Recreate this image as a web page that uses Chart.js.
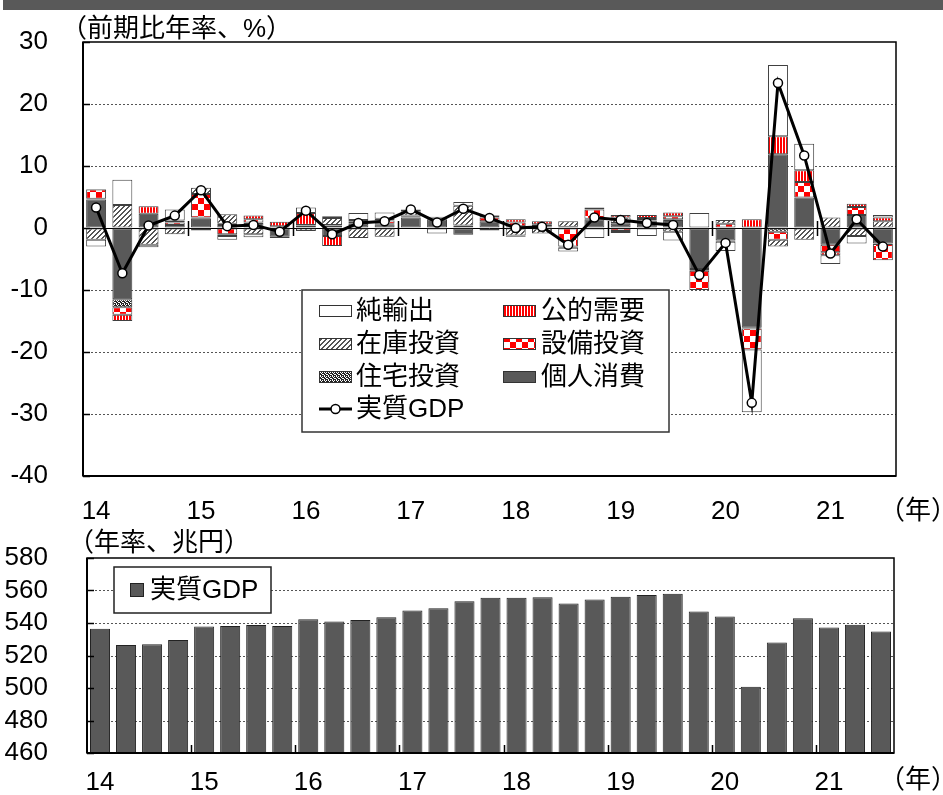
<!DOCTYPE html>
<html lang="ja">
<head>
<meta charset="utf-8">
<script src="https://cdn.jsdelivr.net/npm/chart.js@4.4.1/dist/chart.umd.min.js"></script>
<style>
  body { margin:0; background:#fff; width:943px; height:795px; position:relative; overflow:hidden;
         font-family:"Liberation Sans","Noto Sans CJK JP",sans-serif; }
  .band { position:absolute; left:3px; top:0; width:940px; height:10px; background:#595959; }
  .lbl { position:absolute; font-size:26px; color:#000; white-space:nowrap; line-height:26px; }
  #wrapTop { position:absolute; left:0; top:0; width:943px; height:530px; }
  #wrapBot { position:absolute; left:0; top:530px; width:943px; height:265px; }
</style>
</head>
<body>
<div class="band"></div>
<div id="wrapTop"><canvas id="topChart" width="943" height="530"></canvas></div>
<div id="wrapBot"><canvas id="botChart" width="943" height="265"></canvas></div>
<div class="lbl" style="left:61px; top:15px;">（前期比年率、%）</div>
<div class="lbl" style="left:879px; top:497px;">（年）</div>
<div class="lbl" style="left:68px; top:529px;">（年率、兆円）</div>
<div class="lbl" style="left:879px; top:766px;">（年）</div>
<script>
// 2014Q1 〜 2021Q3 (四半期)
const tickLabels = ['14','','','', '15','','','', '16','','','', '17','','','',
                    '18','','','', '19','','','', '20','','','', '21','',''];

// 寄与度 (前期比年率、%)
const kojinShohi  = [4.6,-11.5,2.3,0.5, 1.5,0.5,0.8,-1.4, 0.4,-1.3,0.7,0.6, 1.7,1.4,-1.1,1.1,
                     0.3,0.3,0.2,1.4, 0.7,1.2,1.3,-6.6, -2.0,-16.1,11.9,4.9, -2.7,2.1,-2.5];
const jutakuToshi = [0.1,-1.3,0.0,0.0, 0.2,0.2,0.1,0.0, 0.0,0.4,0.1,0.1, 0.1,0.1,0.1,-0.4,
                     0.0,0.0,0.0,0.1, 0.1,0.1,0.1,-0.3, -0.2,-0.1,-0.6,0.0, 0.0,0.0,-0.1];
const setsubiToshi= [1.5,-1.2,0.0,0.4, 3.8,-1.0,0.5,0.3, 0.1,0.1,0.3,0.5, 0.2,0.2,0.3,0.6,
                     0.6,0.3,-3.0,1.5, -0.5,0.3,0.5,-3.1, 0.7,-3.4,-1.3,2.5, -1.2,1.3,-2.6];
const zaikoToshi  = [-1.9,3.7,-2.7,-1.0, 1.0,1.5,-1.0,0.0, -0.5,1.1,-1.6,-1.4, 0.7,0.0,3.2,0.3,
                     -1.2,-0.9,0.9,0.0, 0.9,0.0,-0.6,0.0, 0.6,0.0,-1.1,-1.9, 1.7,-1.3,1.1];
const kotekiJuyo  = [0.1,-1.0,1.2,0.3, 0.0,-0.3,0.6,0.7, 1.9,-1.6,0.2,0.3, 0.0,0.1,0.0,0.1,
                     0.5,0.5,-0.2,0.3, 0.4,0.5,0.6,0.0, 0.0,1.4,2.9,1.9, -0.5,0.5,0.6];
const junYushutsu = [-1.1,4.1,-0.4,1.8, -0.4,-0.6,-0.5,-0.2, 0.9,0.3,1.1,1.0, 0.3,-0.9,0.6,0.0,
                     -0.2,0.0,-0.6,-1.6, -0.3,-1.3,-1.4,2.4, -1.5,-10.1,11.5,4.3, -1.4,-1.2,0.4];
const jisshitsuGDP= [3.3,-7.3,0.4,2.0, 6.1,0.3,0.5,-0.6, 2.8,-1.0,0.8,1.1, 3.0,0.9,3.1,1.6,
                     0.0,0.2,-2.7,1.7, 1.3,0.8,0.5,-7.6, -2.4,-28.2,23.4,11.7, -4.1,1.4,-3.0];

// 実質GDP水準 (年率、兆円)
const gdpLevel = [536.4,526.5,526.9,529.6, 537.8,538.2,538.8,538.2, 542.3,540.9,541.9,543.6,
                  547.7,549.1,553.4,555.5, 555.5,555.9,552.0,554.5, 556.2,557.2,558.0,547.1,
                  544.0,500.8,528.0,543.0, 537.3,538.9,534.8];

const FONT = '"Liberation Sans", "Noto Sans CJK JP", sans-serif';
Chart.defaults.font.family = FONT;
Chart.defaults.font.size = 26;
Chart.defaults.color = '#000';

// 模様
function makePattern(w, h, draw) {
    const c = document.createElement('canvas');
    c.width = w; c.height = h;
    const g = c.getContext('2d');
    draw(g);
    return g.createPattern(c, 'repeat');
}
const patStripe = makePattern(3, 1, g => {
    g.fillStyle = '#fff'; g.fillRect(0, 0, 3, 1);
    g.fillStyle = '#ff0000'; g.fillRect(0, 0, 2, 1);
});
const patChecker = makePattern(12, 12, g => {
    g.fillStyle = '#fff'; g.fillRect(0, 0, 12, 12);
    g.fillStyle = '#ff0000'; g.fillRect(0, 0, 6, 6); g.fillRect(6, 6, 6, 6);
});
const patHatch = makePattern(5, 5, g => {
    g.fillStyle = '#fff'; g.fillRect(0, 0, 5, 5);
    g.fillStyle = '#555';
    for (let i = 0; i < 5; i++) { g.fillRect(i, 4 - i, 1, 1); g.fillRect((i + 1) % 5, 4 - i, 1, 1); }
});
const patDots = makePattern(4, 4, g => {
    g.fillStyle = '#222'; g.fillRect(0, 0, 4, 4);
    g.fillStyle = '#fff';
    [[0,0],[2,0],[1,1],[3,2],[0,3],[2,2]].forEach(p => g.fillRect(p[0], p[1], 1, 1));
});

const barBorder = '#404040';
function barSet(label, data, fill) {
    return { type: 'bar', label, data, backgroundColor: fill, borderColor: barBorder,
             borderWidth: 1, borderSkipped: false, barPercentage: 0.76, categoryPercentage: 1.0 };
}

// 軸・枠・凡例を描くプラグイン
function framePlugin(cfg) {
    return {
        id: 'frame_' + cfg.name,
        beforeDatasetsDraw(chart) {
            const { ctx, chartArea: a, scales: { y } } = chart;
            ctx.save();
            ctx.lineWidth = 1;
            y.ticks.forEach(t => {
                if (t.value === y.min || t.value === y.max) return;
                const py = Math.round(y.getPixelForValue(t.value)) + 0.5;
                ctx.beginPath();
                if (t.value === 0 && cfg.zeroLine) { ctx.setLineDash([]); ctx.strokeStyle = '#000'; }
                else { ctx.setLineDash([2, 2]); ctx.strokeStyle = '#555'; }
                ctx.moveTo(a.left, py); ctx.lineTo(a.right, py); ctx.stroke();
            });
            ctx.restore();
        },
        afterDatasetsDraw(chart) {
            const { ctx, chartArea: a, scales: { x, y } } = chart;
            ctx.save();
            // 枠
            ctx.strokeStyle = '#000';
            ctx.lineWidth = 1.5;
            ctx.strokeRect(a.left, a.top, a.right - a.left, a.bottom - a.top);
            ctx.lineWidth = 2;
            ctx.beginPath(); ctx.moveTo(a.left, a.top); ctx.lineTo(a.left, a.bottom); ctx.stroke();
            ctx.beginPath(); ctx.moveTo(a.left, a.bottom); ctx.lineTo(a.right, a.bottom); ctx.stroke();
            // 内向き目盛
            ctx.lineWidth = 1.5;
            y.ticks.forEach(t => {
                const py = Math.round(y.getPixelForValue(t.value)) + 0.5;
                ctx.beginPath(); ctx.moveTo(a.left, py); ctx.lineTo(a.left + 7, py); ctx.stroke();
            });
            // 年の区切り
            const base = cfg.zeroLine ? y.getPixelForValue(0) : a.bottom;
            for (let i = 4; i < tickLabels.length; i += 4) {
                const px = Math.round((x.getPixelForValue(i - 1) + x.getPixelForValue(i)) / 2) + 0.5;
                ctx.beginPath();
                if (cfg.zeroLine) { ctx.moveTo(px, base - 7); ctx.lineTo(px, base + 8); }
                else { ctx.moveTo(px, base); ctx.lineTo(px, base - 8); }
                ctx.stroke();
            }
            ctx.restore();
            if (cfg.legend) cfg.legend(chart);
        }
    };
}

function swatch(ctx, ds, sx, cy) {
    if (ds.type === 'line') {
        ctx.strokeStyle = '#000'; ctx.lineWidth = 3;
        ctx.beginPath(); ctx.moveTo(sx, cy); ctx.lineTo(sx + 33, cy); ctx.stroke();
        ctx.fillStyle = '#fff'; ctx.lineWidth = 1.5;
        ctx.beginPath(); ctx.arc(sx + 16.5, cy, 4.5, 0, Math.PI * 2); ctx.fill(); ctx.stroke();
    } else {
        ctx.fillStyle = ds.backgroundColor;
        ctx.fillRect(sx, cy - 5.5, 33, 11);
        ctx.strokeStyle = '#333'; ctx.lineWidth = 1;
        ctx.strokeRect(sx + 0.5, cy - 5.5, 32, 11);
    }
}

const legendOrder = ['純輸出', '公的需要', '在庫投資', '設備投資', '住宅投資', '個人消費', '実質GDP'];

function drawTopLegend(chart) {
    const ctx = chart.ctx;
    const box = { x: 302, y: 290, w: 367, h: 142 };
    const rows = [311, 344, 377, 409];
    const cols = [{ sw: 319, tx: 356 }, { sw: 503, tx: 541 }];
    ctx.save();
    ctx.fillStyle = '#fff';
    ctx.fillRect(box.x, box.y, box.w, box.h);
    ctx.strokeStyle = '#333'; ctx.lineWidth = 1.5;
    ctx.strokeRect(box.x, box.y, box.w, box.h);
    ctx.font = '26px ' + FONT;
    ctx.textBaseline = 'middle';
    legendOrder.forEach((name, k) => {
        const ds = chart.data.datasets.find(d => d.label === name);
        const r = rows[Math.floor(k / 2)], c = cols[k % 2];
        swatch(ctx, ds, c.sw, r);
        ctx.fillStyle = '#000';
        ctx.fillText(name, c.tx, r + 1);
    });
    ctx.restore();
}

function drawBotLegend(chart) {
    const ctx = chart.ctx;
    ctx.save();
    ctx.fillStyle = '#fff';
    ctx.fillRect(114, 37, 157, 46);
    ctx.strokeStyle = '#222'; ctx.lineWidth = 1.5;
    ctx.strokeRect(114, 37, 157, 46);
    ctx.fillStyle = '#595959';
    ctx.fillRect(130, 53, 14, 14);
    ctx.strokeStyle = '#222'; ctx.lineWidth = 1;
    ctx.strokeRect(130.5, 53.5, 13, 13);
    ctx.font = '26px ' + FONT;
    ctx.textBaseline = 'middle';
    ctx.fillStyle = '#000';
    ctx.fillText(chart.data.datasets[0].label, 150, 61);
    ctx.restore();
}

// 目盛ラベルを枠から離すため、透明な目盛線の長さを使う
function yGrid(len) {
    return { display: true, drawOnChartArea: false, drawTicks: true, tickLength: len,
             tickColor: 'rgba(0,0,0,0)' };
}

// 上段: 寄与度
new Chart(document.getElementById('topChart'), {
    data: {
        labels: tickLabels,
        datasets: [
            { type: 'line', label: '実質GDP', data: jisshitsuGDP, borderColor: '#000', borderWidth: 3,
              pointRadius: 4.5, pointBackgroundColor: '#fff', pointBorderColor: '#000',
              pointBorderWidth: 1.5, tension: 0 },
            barSet('個人消費', kojinShohi, '#595959'),
            barSet('住宅投資', jutakuToshi, patDots),
            barSet('設備投資', setsubiToshi, patChecker),
            barSet('在庫投資', zaikoToshi, patHatch),
            barSet('公的需要', kotekiJuyo, patStripe),
            barSet('純輸出', junYushutsu, '#fff')
        ]
    },
    options: {
        responsive: false,
        animation: false,
        devicePixelRatio: 1,
        layout: { padding: { top: 42, right: 47, left: 0, bottom: 0 } },
        plugins: { legend: { display: false }, tooltip: { enabled: false } },
        scales: {
            x: {
                stacked: true,
                grid: { display: false, drawTicks: false },
                border: { display: false },
                ticks: { autoSkip: false, maxRotation: 0, padding: 20 },
                afterFit(s) { s.height = 54; }
            },
            y: {
                stacked: true,
                min: -40, max: 30,
                grid: yGrid(35),
                border: { display: false },
                ticks: { stepSize: 10, padding: 0, autoSkip: false },
                afterFit(s) { s.width = 83; }
            }
        }
    },
    plugins: [framePlugin({ name: 'top', zeroLine: true, legend: drawTopLegend })]
});

// 下段: 実質GDP水準
new Chart(document.getElementById('botChart'), {
    type: 'bar',
    data: {
        labels: tickLabels,
        datasets: [{ label: '実質GDP', data: gdpLevel, backgroundColor: '#595959',
                     borderColor: '#222', borderWidth: 1, borderSkipped: false,
                     barPercentage: 0.77, categoryPercentage: 1.0 }]
    },
    options: {
        responsive: false,
        animation: false,
        devicePixelRatio: 1,
        layout: { padding: { top: 28, right: 49, left: 0, bottom: 0 } },
        plugins: { legend: { display: false }, tooltip: { enabled: false } },
        scales: {
            x: {
                grid: { display: false, drawTicks: false },
                border: { display: false },
                ticks: { autoSkip: false, maxRotation: 0, padding: 14 },
                afterFit(s) { s.height = 42; }
            },
            y: {
                min: 460, max: 580,
                grid: yGrid(39),
                border: { display: false },
                ticks: { stepSize: 20, padding: 0, autoSkip: false },
                afterFit(s) { s.width = 87; }
            }
        }
    },
    plugins: [framePlugin({ name: 'bot', zeroLine: false, legend: drawBotLegend })]
});
</script>
</body>
</html>
